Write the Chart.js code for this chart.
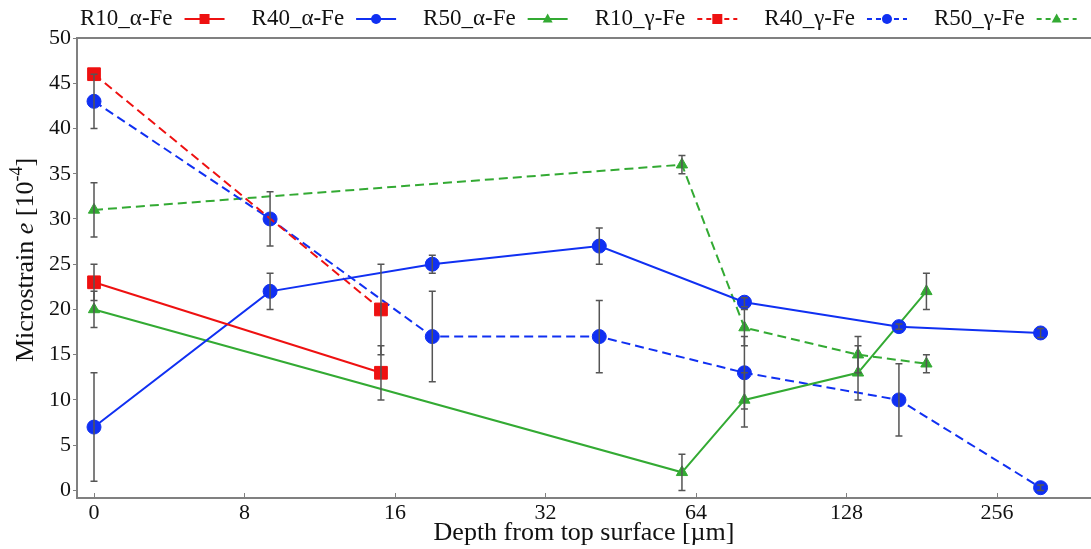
<!DOCTYPE html>
<html>
<head>
<meta charset="utf-8">
<title>Microstrain vs depth</title>
<script src="https://cdn.jsdelivr.net/npm/chart.js"></script>
<style>
  html, body { margin: 0; padding: 0; background: #fff; overflow: hidden; }
  #wrap { width: 1091px; height: 549px; }
  #chart { display: block; }
</style>
</head>
<body>
<div id="wrap"><canvas id="chart" width="1091" height="549"></canvas></div>
<script>
// depth axis tick labels (um) - equally spaced on the axis
const depthTicks = [0, 8, 16, 32, 64, 128, 256];
const strainTicks = [0, 5, 10, 15, 20, 25, 30, 35, 40, 45, 50];

// R10 sample
const r10Depth = [0, 15];
const r10Alpha = [23, 13];
const r10AlphaErr = [2, 3];
const r10Gamma = [46, 20];
const r10GammaErr = [0, 5];

// R40 sample
const r40Depth = [0, 9, 19, 41, 80, 163, 313];
const r40Alpha = [7, 22, 25, 27, 20.8, 18.1, 17.4];
const r40AlphaErr = [6, 2, 1, 2, 0.5, 0.3, 0.5];
const r40Gamma = [43, 30, 17, 17, 13, 10, 0.3];
const r40GammaErr = [3, 3, 5, 4, 4, 4, 0.3];

// R50 sample
const r50Depth = [0, 60, 80, 135, 185];
const r50Alpha = [20, 2, 10, 13, 22];
const r50AlphaErr = [2, 2, 3, 3, 2];
const r50Gamma = [31, 36, 18, 15, 14];
const r50GammaErr = [3, 1, 2, 2, 1];

const RED = '#ee1111';
const BLUE = '#1030f2';
const GREEN = '#33aa33';
const AXIS = '#808080';
const SERIF = "'Liberation Serif', 'Times New Roman', serif";

// linear up to 8 um, log2 above (8 -> 1, 16 -> 2, ...)
function depthToAxis(d) {
    return d <= 8 ? d / 8 : Math.log2(d) - 2;
}

function makeSeries(label, depths, values, errors, color, style, radius, dashed) {
    return {
        label: label,
        data: depths.map((d, i) => ({ x: depthToAxis(d), y: values[i] })),
        errors: errors,
        borderColor: color,
        backgroundColor: color,
        borderWidth: 2,
        borderDash: dashed ? [9, 5] : [],
        pointStyle: style,
        pointRadius: radius,
        pointHoverRadius: radius,
        pointBackgroundColor: color,
        pointBorderColor: color,
        pointBorderWidth: 1,
        tension: 0
    };
}

function drawMarker(ctx, style, x, y, size) {
    ctx.beginPath();
    if (style === 'rect') {
        ctx.rect(x - size, y - size, size * 2, size * 2);
    } else if (style === 'triangle') {
        ctx.moveTo(x, y - size * 1.1);
        ctx.lineTo(x + size, y + size * 0.7);
        ctx.lineTo(x - size, y + size * 0.7);
        ctx.closePath();
    } else {
        ctx.arc(x, y, size, 0, Math.PI * 2);
    }
    ctx.fill();
}

const decorPlugin = {
    id: 'decor',
    afterDatasetsDraw(chart) {
        // error bars on top of the markers
        const { ctx, scales: { x, y } } = chart;
        ctx.save();
        ctx.strokeStyle = '#555555';
        ctx.lineWidth = 1.5;
        ctx.setLineDash([]);
        chart.data.datasets.forEach(ds => {
            ds.data.forEach((p, i) => {
                const e = ds.errors[i];
                if (!e) return;
                const px = x.getPixelForValue(p.x);
                const yTop = y.getPixelForValue(p.y + e);
                const yBot = y.getPixelForValue(p.y - e);
                ctx.beginPath();
                ctx.moveTo(px, yTop); ctx.lineTo(px, yBot);
                ctx.moveTo(px - 3.5, yTop); ctx.lineTo(px + 3.5, yTop);
                ctx.moveTo(px - 3.5, yBot); ctx.lineTo(px + 3.5, yBot);
                ctx.stroke();
            });
        });
        ctx.restore();
    },
    afterDraw(chart) {
        const { ctx, chartArea: area, scales: { x } } = chart;
        ctx.save();

        // the source is cropped before its right spine
        ctx.fillStyle = '#ffffff';
        ctx.fillRect(chart.width - 12, area.top - 2, 12, area.bottom - area.top + 4);

        // top and bottom frame lines
        ctx.strokeStyle = AXIS;
        ctx.lineWidth = 2;
        ctx.beginPath();
        ctx.moveTo(area.left, area.top);
        ctx.lineTo(chart.width, area.top);
        ctx.moveTo(area.left, area.bottom);
        ctx.lineTo(chart.width, area.bottom);
        ctx.stroke();

        // x ticks point inwards
        ctx.lineWidth = 1;
        x.ticks.forEach(t => {
            const px = Math.round(x.getPixelForValue(t.value)) + 0.5;
            ctx.beginPath();
            ctx.moveTo(px, area.bottom);
            ctx.lineTo(px, area.bottom - 5);
            ctx.stroke();
        });

        // y axis title with italic e and superscript
        const parts = [
            { t: 'Microstrain ', f: '26px ' + SERIF, dy: 0 },
            { t: 'e', f: 'italic 26px ' + SERIF, dy: 0 },
            { t: ' [10', f: '26px ' + SERIF, dy: 0 },
            { t: '-4', f: '18px ' + SERIF, dy: -9 },
            { t: ']', f: '26px ' + SERIF, dy: 0 }
        ];
        let total = 0;
        parts.forEach(p => { ctx.font = p.f; p.w = ctx.measureText(p.t).width; total += p.w; });
        ctx.translate(26, 260);
        ctx.rotate(-Math.PI / 2);
        ctx.fillStyle = '#111111';
        ctx.textBaseline = 'middle';
        ctx.textAlign = 'left';
        let cx = -total / 2;
        parts.forEach(p => {
            ctx.font = p.f;
            ctx.fillText(p.t, cx, p.dy);
            cx += p.w;
        });
        ctx.setTransform(1, 0, 0, 1, 0, 0);

        // legend: text first, then line with marker
        ctx.font = '23px ' + SERIF;
        ctx.textBaseline = 'middle';
        let lx = 80;
        const ly = 19;
        chart.data.datasets.forEach(ds => {
            ctx.fillStyle = '#111111';
            ctx.fillText(ds.label, lx, ly);
            const x0 = lx + ctx.measureText(ds.label).width + 12;
            const x1 = x0 + 40;
            ctx.strokeStyle = ds.borderColor;
            ctx.lineWidth = 2;
            ctx.setLineDash(ds.borderDash.length ? [5, 4] : []);
            ctx.beginPath();
            ctx.moveTo(x0, ly);
            ctx.lineTo(x1, ly);
            ctx.stroke();
            ctx.setLineDash([]);
            ctx.fillStyle = ds.borderColor;
            drawMarker(ctx, ds.pointStyle, (x0 + x1) / 2, ly, 5);
            lx = x1 + 27;
        });
        ctx.restore();
    }
};

Chart.defaults.font.family = SERIF;
Chart.defaults.color = '#111111';

new Chart(document.getElementById('chart'), {
    type: 'line',
    data: {
        datasets: [
            makeSeries('R10_\u03b1-Fe', r10Depth, r10Alpha, r10AlphaErr, RED, 'rect', 9, false),
            makeSeries('R40_\u03b1-Fe', r40Depth, r40Alpha, r40AlphaErr, BLUE, 'circle', 7, false),
            makeSeries('R50_\u03b1-Fe', r50Depth, r50Alpha, r50AlphaErr, GREEN, 'triangle', 6.5, false),
            makeSeries('R10_\u03b3-Fe', r10Depth, r10Gamma, r10GammaErr, RED, 'rect', 9, true),
            makeSeries('R40_\u03b3-Fe', r40Depth, r40Gamma, r40GammaErr, BLUE, 'circle', 7, true),
            makeSeries('R50_\u03b3-Fe', r50Depth, r50Gamma, r50GammaErr, GREEN, 'triangle', 6.5, true)
        ]
    },
    options: {
        responsive: false,
        animation: false,
        devicePixelRatio: 1,
        layout: { autoPadding: false, padding: { top: 38, right: 0, left: 0, bottom: 0 } },
        plugins: {
            legend: { display: false },
            tooltip: { enabled: false }
        },
        scales: {
            x: {
                type: 'linear',
                min: -0.113,
                max: 6.625,
                afterBuildTicks: s => { s.ticks = depthTicks.map(d => ({ value: depthToAxis(d) })); },
                afterFit: s => { s.height = 51; s.paddingLeft = 0; s.paddingRight = 0; },
                ticks: {
                    font: { size: 22 },
                    padding: 2,
                    maxRotation: 0,
                    autoSkip: false,
                    callback: (v, i) => depthTicks[i]
                },
                grid: { display: false, drawTicks: false, tickLength: 0 },
                border: { display: false },
                title: {
                    display: true,
                    text: 'Depth from top surface [\u00b5m]',
                    font: { size: 26 },
                    padding: { top: 0, bottom: 0 }
                }
            },
            y: {
                type: 'linear',
                min: -0.84,
                max: 50,
                afterBuildTicks: s => { s.ticks = strainTicks.map(v => ({ value: v })); },
                afterFit: s => { s.width = 77; },
                ticks: {
                    font: { size: 22 },
                    padding: 2,
                    autoSkip: false
                },
                grid: { drawOnChartArea: false, tickLength: 4, color: AXIS },
                border: { display: true, color: AXIS, width: 2 }
            }
        }
    },
    plugins: [decorPlugin]
});
</script>
</body>
</html>
